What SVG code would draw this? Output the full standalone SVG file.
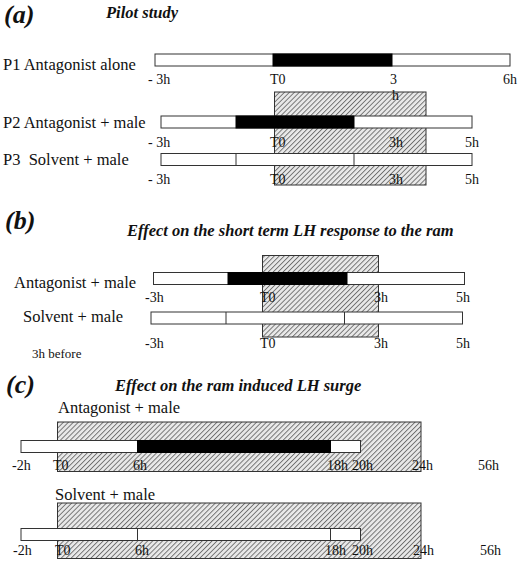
<svg xmlns="http://www.w3.org/2000/svg" width="520" height="561" viewBox="0 0 520 561">
<defs>
<pattern id="hatch" width="3.5" height="3.5" patternUnits="userSpaceOnUse" patternTransform="rotate(45)">
<rect width="3.5" height="3.5" fill="#e9e9e9"/>
<line x1="0.5" y1="0" x2="0.5" y2="3.5" stroke="#5a5a5a" stroke-width="0.8"/>
</pattern>
<style>
text{font-family:"Liberation Serif","Times New Roman",serif;fill:#111}
.panel{font-size:26px;font-weight:bold;font-style:italic}
.title{font-size:16.5px;font-weight:bold;font-style:italic}
.lab{font-size:16.5px}
.ax{font-size:14px}
.sm{font-size:13px}
.bar{fill:#fff;stroke:#333;stroke-width:1}
.blk{fill:#000;stroke:#000;stroke-width:1}
.div{stroke:#333;stroke-width:1}
.box{fill:url(#hatch);stroke:#333;stroke-width:1}
</style>
</defs>
<rect width="520" height="561" fill="#fff"/>

<g id="panel-a">
<text class="panel" x="4" y="23">(a)</text>
<text class="title" x="106" y="18">Pilot study</text>
<g id="a-box"><rect class="box" x="274.5" y="92" width="151.5" height="93"/></g>
<g id="a-p1">
<text class="lab" x="3" y="70">P1 Antagonist alone</text>
<rect class="bar" x="155" y="54" width="355" height="12"/>
<rect class="blk" x="273" y="54" width="119" height="12"/>
<text class="ax" x="148" y="84">- 3h</text>
<text class="ax" x="270" y="84">T0</text>
<text class="ax" x="390" y="84">3</text>
<text class="ax" x="392" y="100">h</text>
<text class="ax" x="503" y="84">6h</text>
</g>
<g id="a-p2">
<text class="lab" x="3" y="128">P2 Antagonist + male</text>
<rect class="bar" x="161" y="116" width="311" height="12"/>
<rect class="blk" x="236" y="116" width="118" height="12"/>
<text class="ax" x="148" y="147">- 3h</text>
<text class="ax" x="270" y="147">T0</text>
<text class="ax" x="389" y="147">3h</text>
<text class="ax" x="465" y="147">5h</text>
</g>
<g id="a-p3">
<text class="lab" x="3" y="165" xml:space="preserve">P3  Solvent + male</text>
<rect class="bar" x="161" y="153.5" width="311" height="12"/>
<line class="div" x1="236" y1="153.5" x2="236" y2="165.5"/>
<line class="div" x1="354" y1="153.5" x2="354" y2="165.5"/>
<text class="ax" x="148" y="184">- 3h</text>
<text class="ax" x="270" y="184">T0</text>
<text class="ax" x="389" y="184">3h</text>
<text class="ax" x="465" y="184">5h</text>
</g>
</g>

<g id="panel-b">
<text class="panel" x="5" y="229">(b)</text>
<text class="title" x="127" y="236">Effect on the short term LH response to the ram</text>
<g id="b-box"><rect class="box" x="262.5" y="255.5" width="116" height="81.5"/></g>
<g id="b-antagonist">
<text class="lab" x="14" y="288">Antagonist + male</text>
<rect class="bar" x="153.5" y="272.5" width="311" height="12"/>
<rect class="blk" x="228" y="272.5" width="119" height="12"/>
<text class="ax" x="145" y="302">-3h</text>
<text class="ax" x="260" y="302">T0</text>
<text class="ax" x="374" y="302">3h</text>
<text class="ax" x="456" y="302">5h</text>
</g>
<g id="b-solvent">
<text class="lab" x="23" y="322">Solvent + male</text>
<rect class="bar" x="151" y="312" width="311.5" height="12"/>
<line class="div" x1="226" y1="312" x2="226" y2="324"/>
<line class="div" x1="344.5" y1="312" x2="344.5" y2="324"/>
<text class="ax" x="145" y="348">-3h</text>
<text class="ax" x="260" y="348">T0</text>
<text class="ax" x="374" y="348">3h</text>
<text class="ax" x="456" y="348">5h</text>
</g>
<text class="sm" x="32" y="358">3h before</text>
</g>

<g id="panel-c">
<text class="panel" x="6" y="393">(c)</text>
<text class="title" x="115" y="391">Effect on the ram induced LH surge</text>
<g id="c-antagonist">
<text class="lab" x="58" y="413">Antagonist + male</text>
<rect class="box" x="57.5" y="422" width="363.5" height="49.5"/>
<rect class="bar" x="21" y="440.5" width="339.5" height="12"/>
<rect class="blk" x="137.5" y="440.5" width="193" height="12"/>
<text class="ax" x="12" y="470">-2h</text>
<text class="ax" x="53" y="470">T0</text>
<text class="ax" x="133" y="470">6h</text>
<text class="ax" x="327" y="470">18h</text>
<text class="ax" x="352" y="470">20h</text>
<text class="ax" x="412" y="470">24h</text>
<text class="ax" x="478" y="470">56h</text>
</g>
<g id="c-solvent">
<text class="lab" x="55" y="500">Solvent + male</text>
<rect class="box" x="57.5" y="503" width="363.5" height="55.5"/>
<rect class="bar" x="21" y="528.5" width="339.5" height="12"/>
<line class="div" x1="137.5" y1="528.5" x2="137.5" y2="540.5"/>
<line class="div" x1="330.5" y1="528.5" x2="330.5" y2="540.5"/>
<text class="ax" x="13" y="555">-2h</text>
<text class="ax" x="55" y="555">T0</text>
<text class="ax" x="135" y="555">6h</text>
<text class="ax" x="325" y="555">18h</text>
<text class="ax" x="352" y="555">20h</text>
<text class="ax" x="413" y="555">24h</text>
<text class="ax" x="480" y="555">56h</text>
</g>
</g>
<g id="connectors"/>
</svg>
